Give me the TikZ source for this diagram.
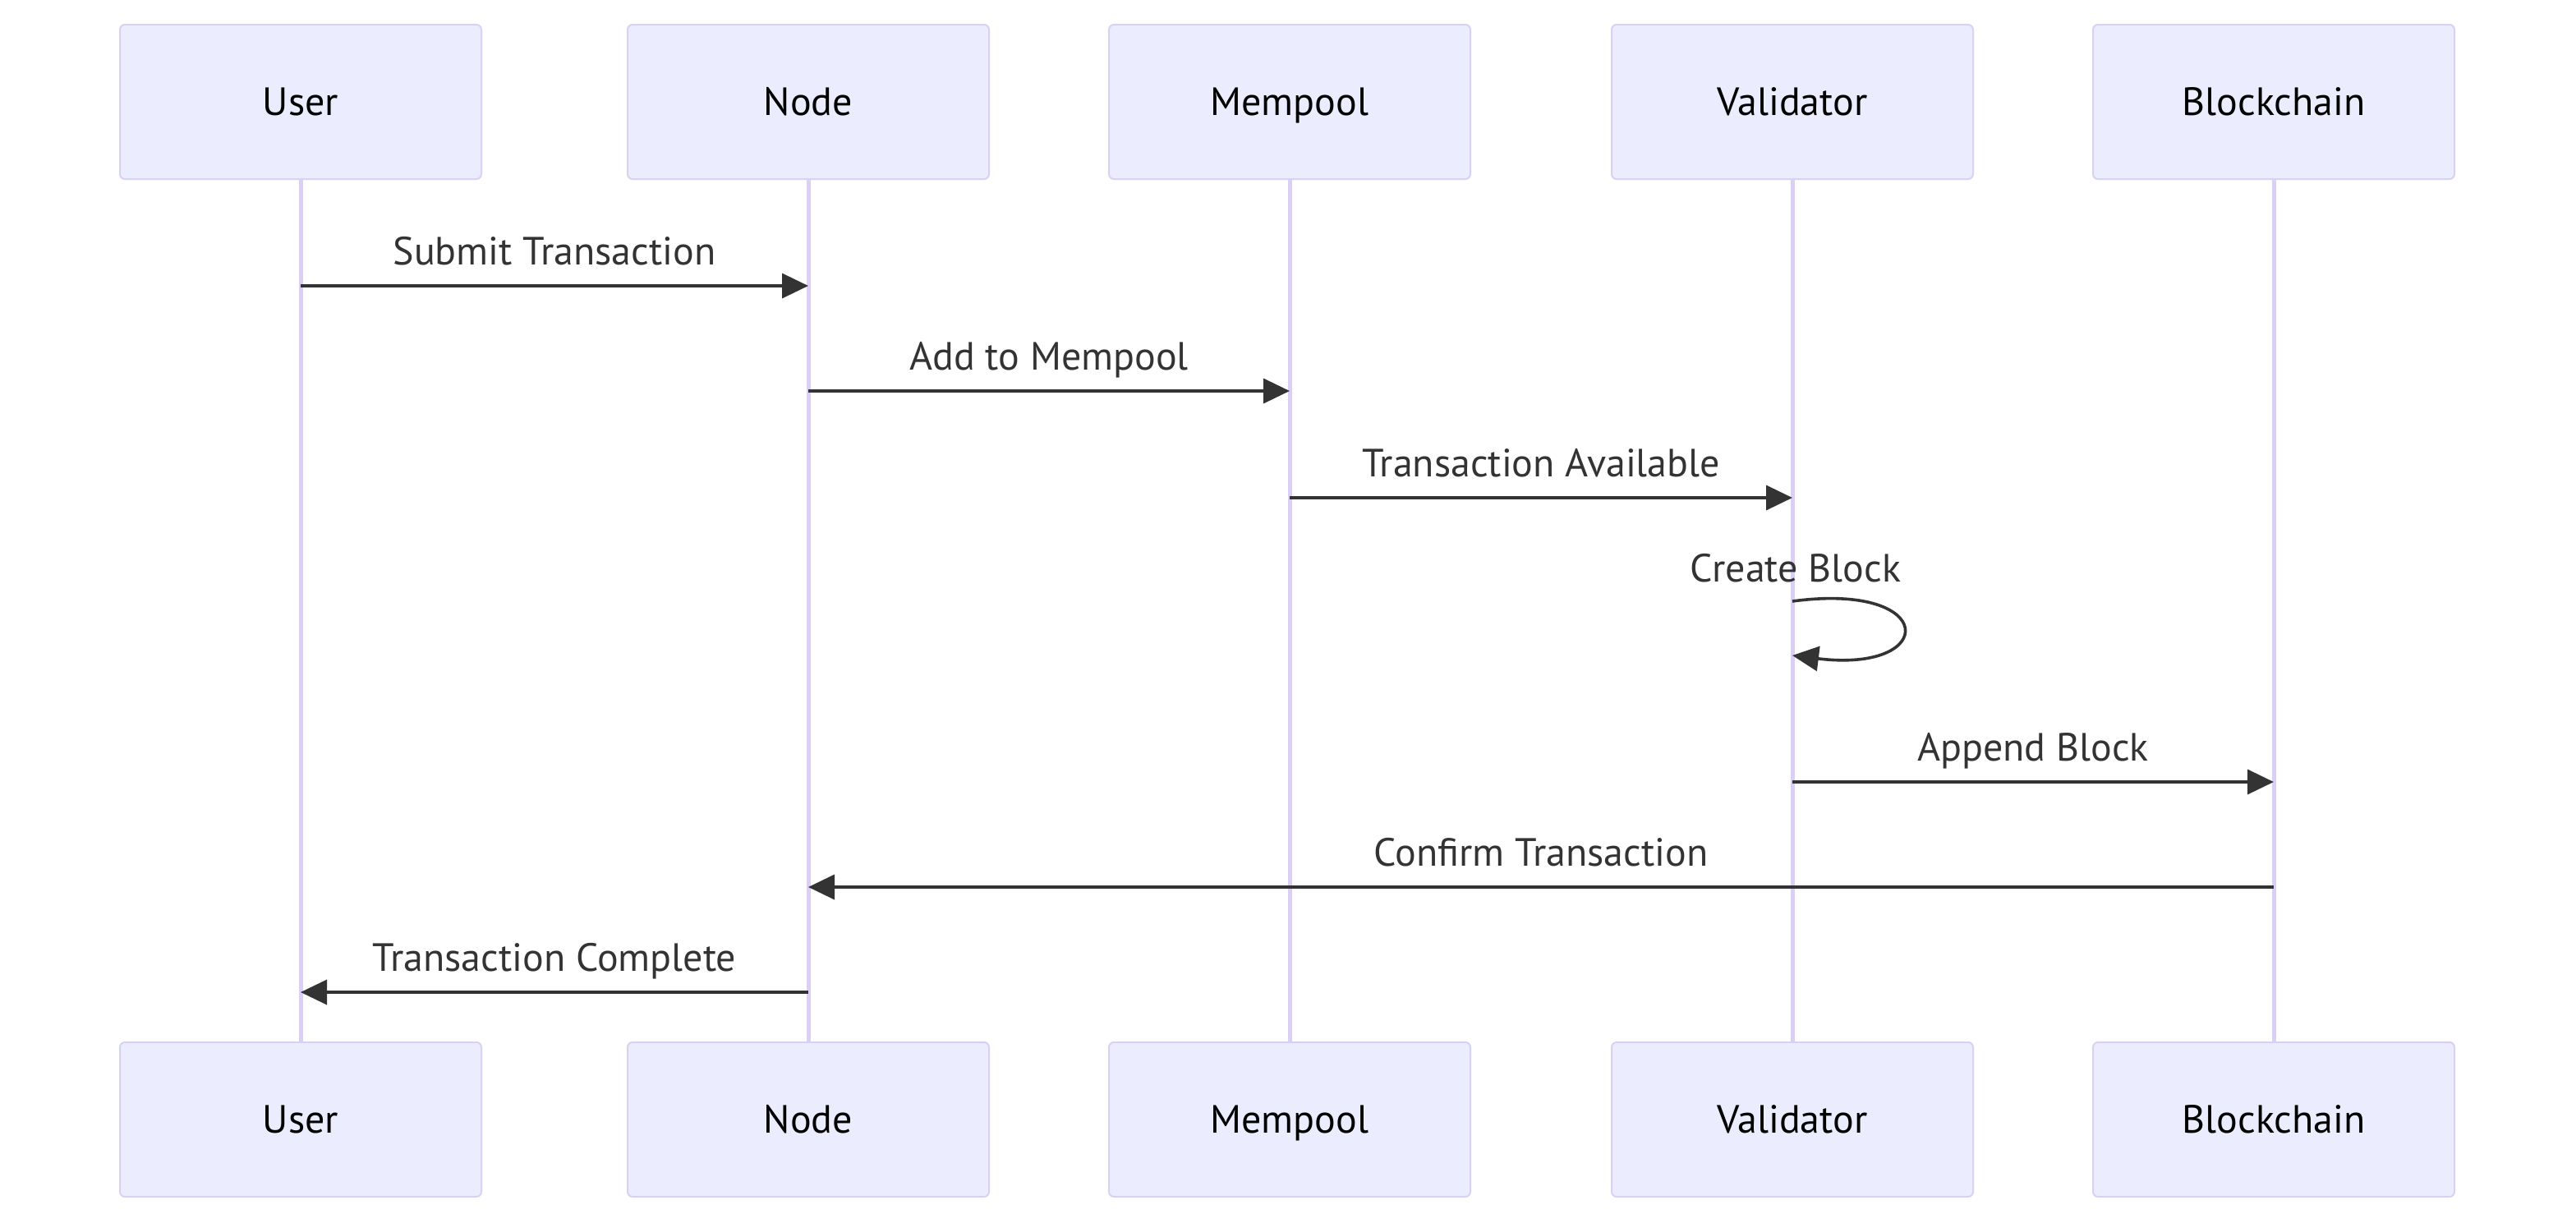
\documentclass[tikz,border=0pt]{standalone}
\usepackage{fontspec}
\setmainfont{PT Sans}
\usetikzlibrary{arrows.meta}
\definecolor{actfill}{HTML}{ECECFF}
\definecolor{actline}{HTML}{DAD0F4}
\definecolor{msgcol}{HTML}{333333}

\begin{document}
\begin{tikzpicture}[x=1pt,y=-1pt]
\useasboundingbox (0,0) rectangle (1568,744);
\begin{scope}[every node/.style={rectangle,rounded corners=3pt,draw=actline,fill=actfill,
              line width=1pt,minimum width=220pt,minimum height=94pt,
              text height=19pt,text depth=3pt,font=\fontsize{24}{28}\selectfont}]
    \node (uT) at (183,62) {User};
    \node (nT) at (492,62) {Node};
    \node (mT) at (785,62) {Mempool};
    \node (vT) at (1091,62) {Validator};
    \node (bT) at (1384,62) {Blockchain};
    \node (uB) at (183,681.5) {User};
    \node (nB) at (492,681.5) {Node};
    \node (mB) at (785,681.5) {Mempool};
    \node (vB) at (1091,681.5) {Validator};
    \node (bB) at (1384,681.5) {Blockchain};
\end{scope}

\begin{scope}[every path/.style={draw=actline,line width=2.5pt}]
    \path (uT) -- (uB);
    \path (nT) -- (nB);
    \path (mT) -- (mB);
    \path (vT) -- (vB);
    \path (bT) -- (bB);
\end{scope}

\begin{scope}[>={Triangle[length=16pt,width=15pt]},
              every node/.style={text=msgcol,yshift=19pt,text height=17pt,text depth=5pt,
                                 font=\fontsize{24}{28}\selectfont},
              every edge/.style={draw=msgcol,line width=1.8pt}]
    \path [->] (uT |- 0,174) edge node {Submit Transaction} (nT |- 0,174);
    \path [->] (nT |- 0,238) edge node {Add to Mempool} (mT |- 0,238);
    \path [->] (mT |- 0,303) edge node {Transaction Available} (vT |- 0,303);
    \path [->] (vT |- 0,476) edge node {Append Block} (bT |- 0,476);
    \path [->] (bT |- 0,540) edge node {Confirm Transaction} (nT |- 0,540);
    \path [->] (nT |- 0,604) edge node {Transaction Complete} (uT |- 0,604);
    \node (cb) at (1093,367) {Create Block};
    \draw [->,draw=msgcol,line width=1.8pt] (vT |- 0,366) .. controls +(89,-12) and +(89,11) .. (vT |- 0,399);
\end{scope}
  \end{tikzpicture}
\end{document}
